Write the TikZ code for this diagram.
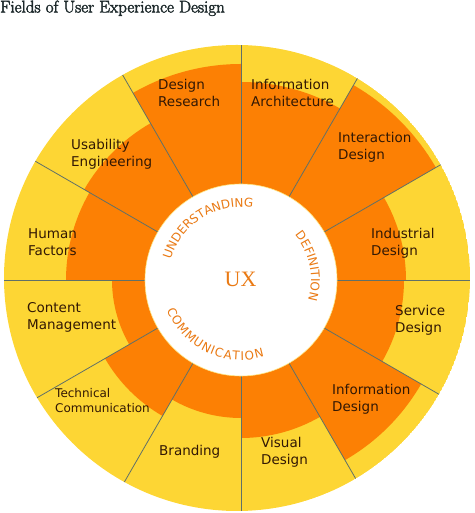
\documentclass[tikz,border=0pt]{standalone}
\usepackage{fontspec}
\newfontfamily\labelfont{DejaVu Sans}
\newfontfamily\uxfont{Liberation Serif}
\usetikzlibrary{decorations.text}
\definecolor{uxyellow}{RGB}{253,214,52}
\definecolor{uxorange}{RGB}{252,128,4}
\definecolor{uxline}{RGB}{96,112,104}
\definecolor{uxlabel}{RGB}{50,24,4}
\definecolor{uxtext}{RGB}{234,122,20}
\definecolor{uxtitle}{RGB}{30,42,44}
\newcommand\heavytext[1]{\special{pdf:literal direct 2 Tr 0.45 w}#1\special{pdf:literal direct 0 Tr}}
\begin{document}
\begin{tikzpicture}[x=1pt,y=1pt,
  seglabel/.style={anchor=north west, inner sep=0pt, align=left, font=\labelfont\fontsize{13.5}{17}\selectfont, text=uxlabel},
  smalllabel/.style={seglabel, font=\labelfont\fontsize{12}{15}\selectfont},
  divider/.style={draw=uxline, line width=0.8pt}]
\useasboundingbox (0,0) rectangle (474,513);
\coordinate (c) at (241,233);
\coordinate (o) at (237,235);
\begin{scope}
  \clip (o) circle[radius=233];
  \fill[uxyellow] (o) circle[radius=233];
  \foreach \a/\r in {90/216,120/181,150/175,180/129,210/157,240/138,270/158,300/208,330/163,0/165,30/225,60/198}{
    \fill[uxorange] (c) -- ++(\a:\r) arc[start angle=\a, end angle=\a+30, radius=\r] -- cycle;
  }
  \foreach \a in {0,30,...,330} \draw[divider] (c) -- ++(\a:260);
\end{scope}
\filldraw[fill=white, draw=uxyellow!60, line width=0.6pt] (c) circle[radius=96];
% centre texts
\node[font=\uxfont\fontsize{22}{24}\selectfont, text=uxtext, inner sep=0pt] (ux) at (240.5,233.5) {UX};
\path[shift={(241,233)}, decorate, decoration={text along path, text={|\labelfont\fontsize{12}{14}\selectfont|UNDERSTANDING}, text align={fit to path}, text color=uxtext}]
  (164:73) arc[start angle=164, end angle=84, radius=73];
\path[shift={(241,233)}, decorate, decoration={text along path, text={|\labelfont\fontsize{12}{14}\selectfont|DEFINITION}, text align={fit to path}, text color=uxtext}]
  (40:70) arc[start angle=40, end angle=-13, radius=70];
\path[shift={(241,233)}, decorate, decoration={text along path, text={|\labelfont\fontsize{12}{14}\selectfont|COMMUNICATION}, text align={fit to path}, text color=uxtext}]
  (202:80) arc[start angle=202, end angle=287, radius=80];
% segment labels
\node[seglabel] (dr) at (158,434) {Design\\Research};
\node[seglabel] (ue) at (71,374) {Usability\\Engineering};
\node[seglabel] (hf) at (28,285) {Human\\Factors};
\node[seglabel] (ia) at (251,434) {Information\\Architecture};
\node[seglabel] (ixd) at (338,381) {Interaction\\Design};
\node[seglabel] (ind) at (371,285) {Industrial\\Design};
\node[seglabel] (cm) at (27,211) {Content\\Management};
\node[smalllabel] (tc) at (55,125) {Technical\\Communication};
\node[seglabel] (br) at (159,68) {Branding};
\node[seglabel] (vd) at (261,76) {Visual\\Design};
\node[seglabel] (infd) at (332,129) {Information\\Design};
\node[seglabel] (sd) at (395,208) {Service\\Design};
% title
\node[anchor=base west, inner sep=0pt, font=\fontsize{17}{19}\selectfont, text=uxtitle] (title) at (0,500.5) {\heavytext{Fields of User Experience Design}};
\end{tikzpicture}
\end{document}
